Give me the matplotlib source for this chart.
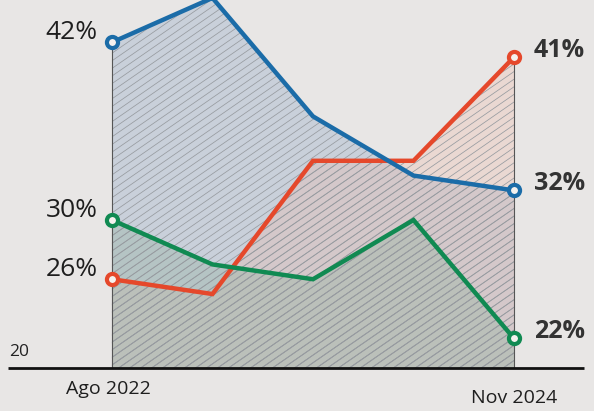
import numpy as np
import matplotlib.pyplot as plt
from matplotlib.colors import to_rgb
from matplotlib.collections import LineCollection

# sondeo: 5 mediciones entre Ago 2022 y Nov 2024
periodos = [0, 1, 2, 3, 4]
tick_labels = ['Ago 2022', 'Nov 2024']
azul = [42, 45, 37, 33, 32]
rojo = [26, 25, 34, 34, 41]
verde = [30, 27, 26, 30, 22]

c_azul = '#1b6ca8'
c_rojo = '#e5482b'
c_verde = '#108a52'
fondo = '#e8e6e5'

plt.rcParams['font.family'] = ['Open Sans', 'DejaVu Sans']

fig = plt.figure(figsize=(5.94, 4.11), dpi=100, facecolor=fondo)
ax = fig.add_axes([0, 0, 1, 1])
ax.set_facecolor(fondo)
ax.set_xlim(-1.114, 4.796)
ax.set_ylim(17.1, 44.86)
ax.axis('off')

x = np.array(periodos)

# areas sombreadas bajo cada serie
areas = []
for serie, col, a in [(azul, '#90a8c6', 0.35), (rojo, '#f0b8a8', 0.30), (verde, '#97b4a4', 0.40)]:
    p = ax.fill_between(x, 20, serie, facecolor=(*to_rgb(col), a), linewidth=0, zorder=1)
    areas.append(p)

# rayado diagonal recortado a cada area
offs = np.arange(-1.2, 1.2, 0.0185)
segs = [[(t, 0), (t + 1.0, 1.0)] for t in offs]
for p in areas:
    lc = LineCollection(segs, colors='#979ba0', linewidths=0.55, transform=ax.transAxes, zorder=1.5)
    ax.add_collection(lc)
    lc.set_clip_path(p.get_paths()[0], ax.transData)

# lineas verticales en los extremos
ax.vlines([x[0], x[-1]], 20, [max(azul[0], rojo[0], verde[0]), max(azul[-1], rojo[-1], verde[-1])],
          color='#555555', lw=0.8, zorder=2)

# eje base
ax.plot([-1.03, 4.7], [20, 20], color='#111111', lw=2, solid_capstyle='butt', zorder=3)
ax.text(-1.02, 21.1, '20', fontsize=12.5, color='#222222', ha='left', va='center')

for serie, col in [(rojo, c_rojo), (verde, c_verde), (azul, c_azul)]:
    ax.plot(x, serie, color=col, lw=3.2, solid_joinstyle='miter', zorder=4)
    ax.plot([x[0], x[-1]], [serie[0], serie[-1]], 'o', ms=8, mfc='#f4f1ee',
            mec=col, mew=3, zorder=5)
    ax.annotate(f'{serie[0]}%', (x[0], serie[0]), xytext=(-14, 10), textcoords='offset pixels',
                ha='right', va='center', fontsize=19, color='#1e1e1e')
    ax.annotate(f'{serie[-1]}%', (x[-1], serie[-1]), xytext=(20, 7), textcoords='offset pixels',
                ha='left', va='center', fontsize=18, fontweight='bold', color='#333333')

ax.text(x[0] - 0.04, 18.6, tick_labels[0], fontsize=14, color='#1e1e1e', ha='center', va='center')
ax.text(x[-1], 17.95, tick_labels[1], fontsize=14, color='#1e1e1e', ha='center', va='center')

fig.savefig('out.png', dpi=100, facecolor=fondo)
